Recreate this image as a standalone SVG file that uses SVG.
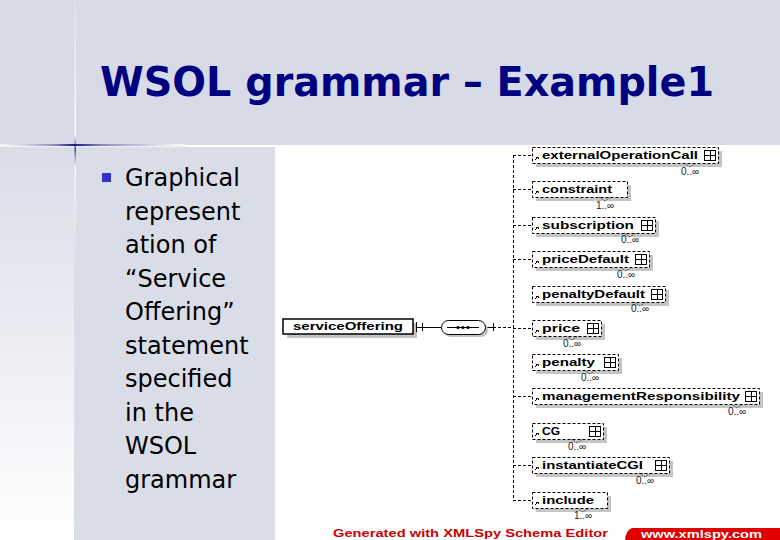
<svg xmlns="http://www.w3.org/2000/svg" width="780" height="540" viewBox="0 0 780 540">
<defs>
<linearGradient id="leftGrad" x1="0" y1="0" x2="0" y2="1">
<stop offset="0" stop-color="#d9dde8"/>
<stop offset="1" stop-color="#ffffff"/>
</linearGradient>
<linearGradient id="vline" x1="0" y1="0" x2="0" y2="1">
<stop offset="0" stop-color="#ffffff" stop-opacity="0.2"/>
<stop offset="0.5" stop-color="#ffffff" stop-opacity="0.9"/>
<stop offset="0.55" stop-color="#2a2a90" stop-opacity="0.9"/>
<stop offset="0.62" stop-color="#ffffff" stop-opacity="0.8"/>
<stop offset="1" stop-color="#ffffff" stop-opacity="0"/>
</linearGradient>
<linearGradient id="hline" x1="0" y1="0" x2="1" y2="0">
<stop offset="0" stop-color="#ffffff" stop-opacity="0.6"/>
<stop offset="0.3" stop-color="#8888bb"/>
<stop offset="0.4" stop-color="#1a1a88"/>
<stop offset="0.55" stop-color="#8888bb"/>
<stop offset="1" stop-color="#ffffff" stop-opacity="0.8"/>
</linearGradient>
<style>
.title{font-family:"DejaVu Sans",Verdana,sans-serif;font-weight:bold;font-size:40px;fill:#000080}
.body{font-family:"DejaVu Sans",Verdana,sans-serif;font-size:24px;fill:#000}
.el{font-family:"Liberation Sans",Arial,sans-serif;font-weight:bold;font-size:11px;fill:#000}
.card{font-family:"Liberation Sans",Arial,sans-serif;font-size:10px;fill:#222;text-anchor:middle}
.box{fill:#fff;stroke:#000;stroke-width:1;stroke-dasharray:3 2}
.shadow{fill:#c4c4c4}
.icon{fill:#fff;stroke:#000;stroke-width:1}
.conn{fill:none;stroke:#000;stroke-width:1;stroke-dasharray:3 2}
.solid{fill:none;stroke:#000;stroke-width:1}
.notch{fill:none;stroke:#000;stroke-width:0.8;stroke-dasharray:1 1}
.ref{fill:none;stroke:#000;stroke-width:1}
</style>
</defs>

<!-- background -->
<rect x="0" y="0" width="780" height="540" fill="#ffffff"/>
<rect x="0" y="0" width="780" height="145" fill="#d6dbe7"/>
<rect x="0" y="147" width="74" height="393" fill="url(#leftGrad)"/>
<rect x="74" y="147" width="201" height="393" fill="#d9dde8"/>
<rect x="0" y="145" width="185" height="2" fill="#f2f3f7"/>
<rect x="74.5" y="0" width="1.5" height="270" fill="url(#vline)"/>
<rect x="0" y="144" width="185" height="2" fill="url(#hline)"/>

<text class="title" x="100" y="96" textLength="614" lengthAdjust="spacingAndGlyphs">WSOL grammar – Example1</text>

<rect x="102" y="173" width="9" height="9" fill="#3333cc"/>
<text class="body" x="125">
<tspan x="125" y="186">Graphical</tspan>
<tspan x="125" y="220">represent</tspan>
<tspan x="125" y="253">ation of</tspan>
<tspan x="125" y="287">“Service</tspan>
<tspan x="125" y="320">Offering”</tspan>
<tspan x="125" y="354">statement</tspan>
<tspan x="125" y="387">specified</tspan>
<tspan x="125" y="421">in the</tspan>
<tspan x="125" y="454">WSOL</tspan>
<tspan x="125" y="488">grammar</tspan>
</text>

<!-- connectors -->
<g id="connectors">
<line class="solid" x1="425" y1="327.5" x2="441" y2="327.5"/>
<line class="solid" x1="485" y1="327.5" x2="493" y2="327.5"/>
<line class="solid" x1="493.5" y1="323" x2="493.5" y2="331"/>
<line class="conn" x1="493" y1="327.5" x2="513" y2="327.5"/>
<line class="conn" x1="513.5" y1="155" x2="513.5" y2="500"/>
<line class="conn" x1="513" y1="155.5" x2="532" y2="155.5"/>
<line class="conn" x1="513" y1="189.5" x2="532" y2="189.5"/>
<line class="conn" x1="513" y1="225.5" x2="532" y2="225.5"/>
<line class="conn" x1="513" y1="259.5" x2="532" y2="259.5"/>
<line class="conn" x1="513" y1="328.5" x2="532" y2="328.5"/>
<line class="conn" x1="513" y1="396.5" x2="532" y2="396.5"/>
<line class="conn" x1="513" y1="465.5" x2="532" y2="465.5"/>
<line class="conn" x1="513" y1="500.5" x2="532" y2="500.5"/>
</g>

<!-- root element -->
<g id="serviceOffering">
<rect class="shadow" x="287" y="323" width="130" height="15"/>
<rect x="283" y="319" width="130" height="15" fill="#fff" stroke="#000" stroke-width="1.5"/>
<text class="el" x="293" y="330" textLength="110" lengthAdjust="spacingAndGlyphs">serviceOffering</text>
<path class="solid" d="M416.5,322 V332 M416,327.5 H425 M422.5,323 V331"/>
</g>

<g id="sequence">
<rect class="shadow" x="444" y="323" width="44" height="14" rx="7"/>
<rect x="441.5" y="320.5" width="44" height="14" rx="7" fill="#fff" stroke="#000" stroke-width="1"/>
<line class="solid" x1="447" y1="327.5" x2="479" y2="327.5"/>
<circle cx="458" cy="327.5" r="1.6" fill="#000"/>
<circle cx="463" cy="327.5" r="1.6" fill="#000"/>
<circle cx="468" cy="327.5" r="1.6" fill="#000"/>
</g>

<g id="externalOperationCall">
<rect class="shadow" x="536" y="151" width="186" height="16"/>
<rect class="box" x="532.5" y="147.5" width="186" height="16"/>
<path class="ref" d="M535,160 L538,157 M536,157.5 H538.5 V159"/>
<text class="el" x="542" y="159" textLength="156" lengthAdjust="spacingAndGlyphs">externalOperationCall</text>
<rect class="icon" x="704.5" y="150.5" width="11" height="10"/>
<path class="solid" d="M705,155.5 H715 M710.5,151 V160"/>
<path class="notch" d="M684,163 L690,167 L696,163"/>
<text class="card" x="690" y="175">0..∞</text>
</g>

<g id="constraint">
<rect class="shadow" x="536" y="185" width="95" height="16"/>
<rect class="box" x="532.5" y="181.5" width="95" height="16"/>
<path class="ref" d="M535,194 L538,191 M536,191.5 H538.5 V193"/>
<text class="el" x="542" y="193" textLength="70" lengthAdjust="spacingAndGlyphs">constraint</text>
<path class="notch" d="M599,197 L605,201 L611,197"/>
<text class="card" x="605" y="209">1..∞</text>
</g>

<g id="subscription">
<rect class="shadow" x="536" y="221" width="123" height="16"/>
<rect class="box" x="532.5" y="217.5" width="123" height="16"/>
<path class="ref" d="M535,230 L538,227 M536,227.5 H538.5 V229"/>
<text class="el" x="542" y="229" textLength="92" lengthAdjust="spacingAndGlyphs">subscription</text>
<rect class="icon" x="641.5" y="220.5" width="11" height="10"/>
<path class="solid" d="M642,225.5 H652 M647.5,221 V230"/>
<path class="notch" d="M624,233 L630,237 L636,233"/>
<text class="card" x="630" y="243">0..∞</text>
</g>

<g id="priceDefault">
<rect class="shadow" x="536" y="255" width="117" height="16"/>
<rect class="box" x="532.5" y="251.5" width="117" height="16"/>
<path class="ref" d="M535,264 L538,261 M536,261.5 H538.5 V263"/>
<text class="el" x="542" y="263" textLength="87" lengthAdjust="spacingAndGlyphs">priceDefault</text>
<rect class="icon" x="635.5" y="254.5" width="11" height="10"/>
<path class="solid" d="M636,259.5 H646 M641.5,255 V264"/>
<path class="notch" d="M620,267 L626,271 L632,267"/>
<text class="card" x="626" y="278">0..∞</text>
</g>

<g id="penaltyDefault">
<rect class="shadow" x="536" y="290" width="133" height="16"/>
<rect class="box" x="532.5" y="286.5" width="133" height="16"/>
<path class="ref" d="M535,299 L538,296 M536,296.5 H538.5 V298"/>
<text class="el" x="542" y="298" textLength="103" lengthAdjust="spacingAndGlyphs">penaltyDefault</text>
<rect class="icon" x="651.5" y="289.5" width="11" height="10"/>
<path class="solid" d="M652,294.5 H662 M657.5,290 V299"/>
<path class="notch" d="M634,302 L640,306 L646,302"/>
<text class="card" x="640" y="312">0..∞</text>
</g>

<g id="price">
<rect class="shadow" x="536" y="324" width="69" height="16"/>
<rect class="box" x="532.5" y="320.5" width="69" height="16"/>
<path class="ref" d="M535,333 L538,330 M536,330.5 H538.5 V332"/>
<text class="el" x="542" y="332" textLength="38" lengthAdjust="spacingAndGlyphs">price</text>
<rect class="icon" x="587.5" y="323.5" width="11" height="10"/>
<path class="solid" d="M588,328.5 H598 M593.5,324 V333"/>
<path class="notch" d="M566,336 L572,340 L578,336"/>
<text class="card" x="572" y="347">0..∞</text>
</g>

<g id="penalty">
<rect class="shadow" x="536" y="358" width="86" height="16"/>
<rect class="box" x="532.5" y="354.5" width="86" height="16"/>
<path class="ref" d="M535,367 L538,364 M536,364.5 H538.5 V366"/>
<text class="el" x="542" y="366" textLength="53" lengthAdjust="spacingAndGlyphs">penalty</text>
<rect class="icon" x="604.5" y="357.5" width="11" height="10"/>
<path class="solid" d="M605,362.5 H615 M610.5,358 V367"/>
<path class="notch" d="M584,370 L590,374 L596,370"/>
<text class="card" x="590" y="381">0..∞</text>
</g>

<g id="managementResponsibility">
<rect class="shadow" x="536" y="392" width="227" height="16"/>
<rect class="box" x="532.5" y="388.5" width="227" height="16"/>
<path class="ref" d="M535,401 L538,398 M536,398.5 H538.5 V400"/>
<text class="el" x="542" y="400" textLength="198" lengthAdjust="spacingAndGlyphs">managementResponsibility</text>
<rect class="icon" x="745.5" y="391.5" width="11" height="10"/>
<path class="solid" d="M746,396.5 H756 M751.5,392 V401"/>
<path class="notch" d="M731,404 L737,408 L743,404"/>
<text class="card" x="737" y="415">0..∞</text>
</g>

<g id="CG">
<rect class="shadow" x="536" y="427" width="71" height="16"/>
<rect class="box" x="532.5" y="423.5" width="71" height="16"/>
<path class="ref" d="M535,436 L538,433 M536,433.5 H538.5 V435"/>
<text class="el" x="542" y="435" textLength="18" lengthAdjust="spacingAndGlyphs">CG</text>
<rect class="icon" x="589.5" y="426.5" width="11" height="10"/>
<path class="solid" d="M590,431.5 H600 M595.5,427 V436"/>
<path class="notch" d="M571,439 L577,443 L583,439"/>
<text class="card" x="577" y="450">0..∞</text>
</g>

<g id="instantiateCGI">
<rect class="shadow" x="536" y="461" width="137" height="16"/>
<rect class="box" x="532.5" y="457.5" width="137" height="16"/>
<path class="ref" d="M535,470 L538,467 M536,467.5 H538.5 V469"/>
<text class="el" x="542" y="469" textLength="101" lengthAdjust="spacingAndGlyphs">instantiateCGI</text>
<rect class="icon" x="655.5" y="460.5" width="11" height="10"/>
<path class="solid" d="M656,465.5 H666 M661.5,461 V470"/>
<path class="notch" d="M639,473 L645,477 L651,473"/>
<text class="card" x="645" y="484">0..∞</text>
</g>

<g id="include">
<rect class="shadow" x="536" y="496" width="75" height="16"/>
<rect class="box" x="532.5" y="492.5" width="75" height="16"/>
<path class="ref" d="M535,505 L538,502 M536,502.5 H538.5 V504"/>
<text class="el" x="542" y="504" textLength="52" lengthAdjust="spacingAndGlyphs">include</text>
<path class="notch" d="M577,508 L583,512 L589,508"/>
<text class="card" x="583" y="519">1..∞</text>
</g>

<!-- footer -->
<text x="333" y="537" font-family="Liberation Sans, Arial, sans-serif" font-weight="bold" font-size="11" fill="#cc0000" textLength="275" lengthAdjust="spacingAndGlyphs">Generated with XMLSpy Schema Editor</text>
<path d="M632,528 H780 V540 H625 Q626,530 632,528 Z" fill="#e00000"/>
<text x="641" y="537.5" font-family="Liberation Sans, Arial, sans-serif" font-weight="bold" font-size="10.5" fill="#ffffff" textLength="121" lengthAdjust="spacingAndGlyphs">www.xmlspy.com</text>
</svg>
